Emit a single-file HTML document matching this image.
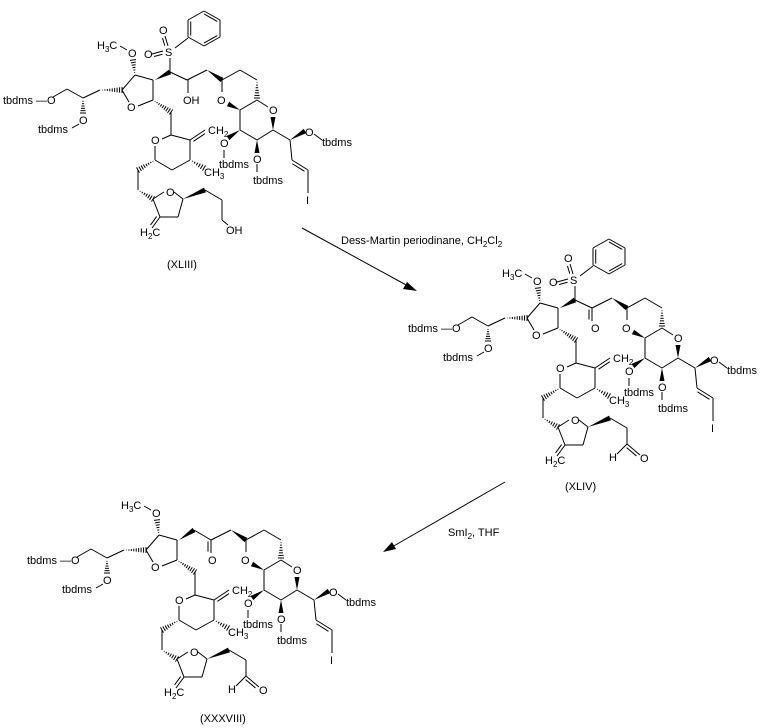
<!DOCTYPE html>
<html><head><meta charset="utf-8"><style>
html,body{margin:0;padding:0;background:#fff;}
svg{display:block;}
text{font-family:"Liberation Sans",sans-serif;font-size:11px;fill:#000;}
.s{font-size:8px;}
</style></head><body>
<svg id="sv" width="763" height="728" viewBox="0 0 763 728" xmlns="http://www.w3.org/2000/svg">
<g id="m1" transform="translate(0,0)">
<text x="3" y="104">tbdms —O</text>
<text x="38" y="133">tbdms</text><text x="79" y="124">O</text>
<text x="127" y="111">O</text>
<text x="97" y="49">H<tspan class="s" dy="3">3</tspan><tspan dy="-3">C</tspan></text><text x="128" y="57">O</text>
<text x="165" y="56">S</text><text x="144" y="58">O</text><text x="159" y="34">O</text>
<text x="183" y="104">OH</text>
<text x="217" y="104">O</text><text x="269" y="114">O</text>
<text x="220" y="147">O</text><text x="219" y="168">tbdms</text>
<text x="253" y="163">O</text><text x="253" y="184">tbdms</text>
<text x="305" y="136">O</text><text x="322" y="146">tbdms</text>
<text x="306" y="204">I</text>
<text x="151" y="144">O</text>
<text x="208" y="134">CH<tspan class="s" dy="3">2</tspan></text>
<text x="204" y="176">CH<tspan class="s" dy="3">3</tspan></text>
<text x="166" y="196">O</text>
<text x="140" y="236">H<tspan class="s" dy="3">2</tspan><tspan dy="-3">C</tspan></text>
<text x="226" y="234">OH</text>
<text x="167" y="268">(XLIII)</text>
</g>
<g id="m2" transform="translate(405,228)">
<text x="3" y="104">tbdms —O</text>
<text x="38" y="133">tbdms</text><text x="79" y="124">O</text>
<text x="127" y="111">O</text>
<text x="97" y="49">H<tspan class="s" dy="3">3</tspan><tspan dy="-3">C</tspan></text><text x="128" y="57">O</text>
<text x="165" y="56">S</text><text x="144" y="58">O</text><text x="159" y="34">O</text>
<text x="186" y="104">O</text>
<text x="217" y="104">O</text><text x="269" y="114">O</text>
<text x="220" y="147">O</text><text x="219" y="168">tbdms</text>
<text x="253" y="163">O</text><text x="253" y="184">tbdms</text>
<text x="305" y="136">O</text><text x="322" y="146">tbdms</text>
<text x="306" y="204">I</text>
<text x="151" y="144">O</text>
<text x="208" y="134">CH<tspan class="s" dy="3">2</tspan></text>
<text x="204" y="176">CH<tspan class="s" dy="3">3</tspan></text>
<text x="166" y="196">O</text>
<text x="140" y="236">H<tspan class="s" dy="3">2</tspan><tspan dy="-3">C</tspan></text>
<text x="204" y="233">H</text><text x="235" y="234">O</text>
<text x="160" y="262">(XLIV)</text>
</g>
<g id="m3" transform="translate(24,460)">
<text x="3" y="104">tbdms —O</text>
<text x="38" y="133">tbdms</text><text x="79" y="124">O</text>
<text x="127" y="111">O</text>
<text x="97" y="49">H<tspan class="s" dy="3">3</tspan><tspan dy="-3">C</tspan></text><text x="128" y="57">O</text>
<text x="184" y="104">O</text>
<text x="217" y="104">O</text><text x="269" y="114">O</text>
<text x="220" y="147">O</text><text x="219" y="168">tbdms</text>
<text x="253" y="163">O</text><text x="253" y="184">tbdms</text>
<text x="305" y="136">O</text><text x="322" y="146">tbdms</text>
<text x="306" y="204">I</text>
<text x="151" y="144">O</text>
<text x="208" y="134">CH<tspan class="s" dy="3">2</tspan></text>
<text x="204" y="176">CH<tspan class="s" dy="3">3</tspan></text>
<text x="166" y="196">O</text>
<text x="140" y="236">H<tspan class="s" dy="3">2</tspan><tspan dy="-3">C</tspan></text>
<text x="204" y="233">H</text><text x="235" y="234">O</text>
<text x="176" y="262">(XXXVIII)</text>
</g>
<line x1="302" y1="228" x2="408" y2="286" stroke="#000" stroke-width="1"/>
<polygon points="417,291 403,289 407,282" fill="#000"/>
<text x="341" y="244">Dess-Martin periodinane, CH<tspan class="s" dy="3">2</tspan><tspan dy="-3">Cl</tspan><tspan class="s" dy="3">2</tspan></text>
<line x1="505" y1="482" x2="392" y2="547" stroke="#000" stroke-width="1"/>
<polygon points="383,552 392,542 396,549" fill="#000"/>
<text x="448" y="536">SmI<tspan class="s" dy="3">2</tspan><tspan dy="-3">, THF</tspan></text>
</svg>
<script>
(function(){
var NS="http://www.w3.org/2000/svg";
function el(g,n,a){var e=document.createElementNS(NS,n);for(var k in a)e.setAttribute(k,a[k]);g.appendChild(e);}
function S(g,a,b,c,d){el(g,"line",{x1:a,y1:b,x2:c,y2:d,stroke:"#000","stroke-width":1});}
function D(g,a,b,c,d){S(g,a,b,c,d);var dx=c-a,dy=d-b,l=Math.hypot(dx,dy),nx=-dy/l*3,ny=dx/l*3;S(g,a+nx+dx*.12,b+ny+dy*.12,c+nx-dx*.12,d+ny-dy*.12);}
function W(g,a,b,c,d){var dx=c-a,dy=d-b,l=Math.hypot(dx,dy),nx=-dy/l*2.5,ny=dx/l*2.5;el(g,"polygon",{points:a+","+b+" "+(c+nx)+","+(d+ny)+" "+(c-nx)+","+(d-ny),fill:"#000"});}
function H(g,a,b,c,d){var dx=c-a,dy=d-b,l=Math.hypot(dx,dy),nx=-dy/l,ny=dx/l,n=Math.max(4,Math.round(l/2.5));for(var i=1;i<=n;i++){var t=i/n,w=t*3;S(g,a+dx*t+nx*w,b+dy*t+ny*w,a+dx*t-nx*w,b+dy*t-ny*w);}}
function common(g){
S(g,53,97,67,89);S(g,67,89,83,98);H(g,83,99,83,113);S(g,72,128,79,124);
S(g,83,98,100,90);H(g,100,90,122,90);
S(g,122,90,129,102);S(g,138,106,153,100);S(g,153,100,153,80);S(g,153,80,135,75);S(g,135,75,122,90);
H(g,135,75,133,60);S(g,127,50,120,46);
W(g,207,70,222,80);
S(g,222,80,240,70);S(g,240,70,257,80);H(g,257,80,257,98);S(g,257,100,268,107);
S(g,222,80,222,92);W(g,240,110,228,104);S(g,240,110,257,100);
S(g,240,110,240,130);S(g,240,130,257,140);S(g,257,140,273,130);W(g,273,130,273,117);
W(g,240,130,228,138);S(g,224,150,224,158);
W(g,257,140,257,153);S(g,257,164,257,172);
S(g,273,130,290,140);W(g,290,140,305,131);S(g,314,134,322,140);
S(g,290,140,292,160);D(g,292,160,308,170);S(g,308,170,308,193);
H(g,153,100,171,112);S(g,171,112,171,135);
S(g,171,135,162,139);S(g,155,146,155,160);S(g,155,160,172,170);S(g,172,170,190,160);S(g,190,160,190,140);S(g,190,140,171,135);
D(g,190,140,205,130);H(g,190,160,204,168);
H(g,155,160,138,170);S(g,138,170,138,190);H(g,138,190,153,199);
S(g,153,199,164,192);S(g,174,192,183,199);S(g,183,199,178,217);S(g,178,217,160,217);S(g,160,217,153,199);D(g,160,217,152,228);
W(g,183,199,205,190);S(g,205,190,222,200);
}
function sulf(g){
W(g,155,80,170,72);S(g,170,72,170,58);D(g,152,54,163,51);D(g,165,36,168,46);S(g,175,48,188,38);
var p=[[188,20],[204,11],[220,20],[220,37],[204,46],[188,37]];
for(var i=0;i<6;i++){var a=p[i],b=p[(i+1)%6];S(g,a[0],a[1],b[0],b[1]);}
[[1,2],[3,4],[5,0]].forEach(function(e){var a=p[e[0]],b=p[e[1]],cx=204,cy=28.5;S(g,a[0]+(cx-a[0])*.17,a[1]+(cy-a[1])*.17,b[0]+(cx-b[0])*.17,b[1]+(cy-b[1])*.17);});
S(g,170,72,187,80);S(g,187,80,207,70);
}
var g1=document.getElementById("m1"),g2=document.getElementById("m2"),g3=document.getElementById("m3");
common(g1);sulf(g1);S(g1,188,80,188,93);S(g1,222,200,222,220);S(g1,222,220,228,225);
common(g2);sulf(g2);D(g2,187,80,187,93);S(g2,222,200,222,216);S(g2,212,226,222,216);D(g2,222,216,235,227);
common(g3);W(g3,155,80,170,70);S(g3,170,70,187,80);S(g3,187,80,207,70);D(g3,187,80,187,93);S(g3,222,200,222,216);S(g3,212,226,222,216);D(g3,222,216,235,227);
})();
</script>
</body></html>
